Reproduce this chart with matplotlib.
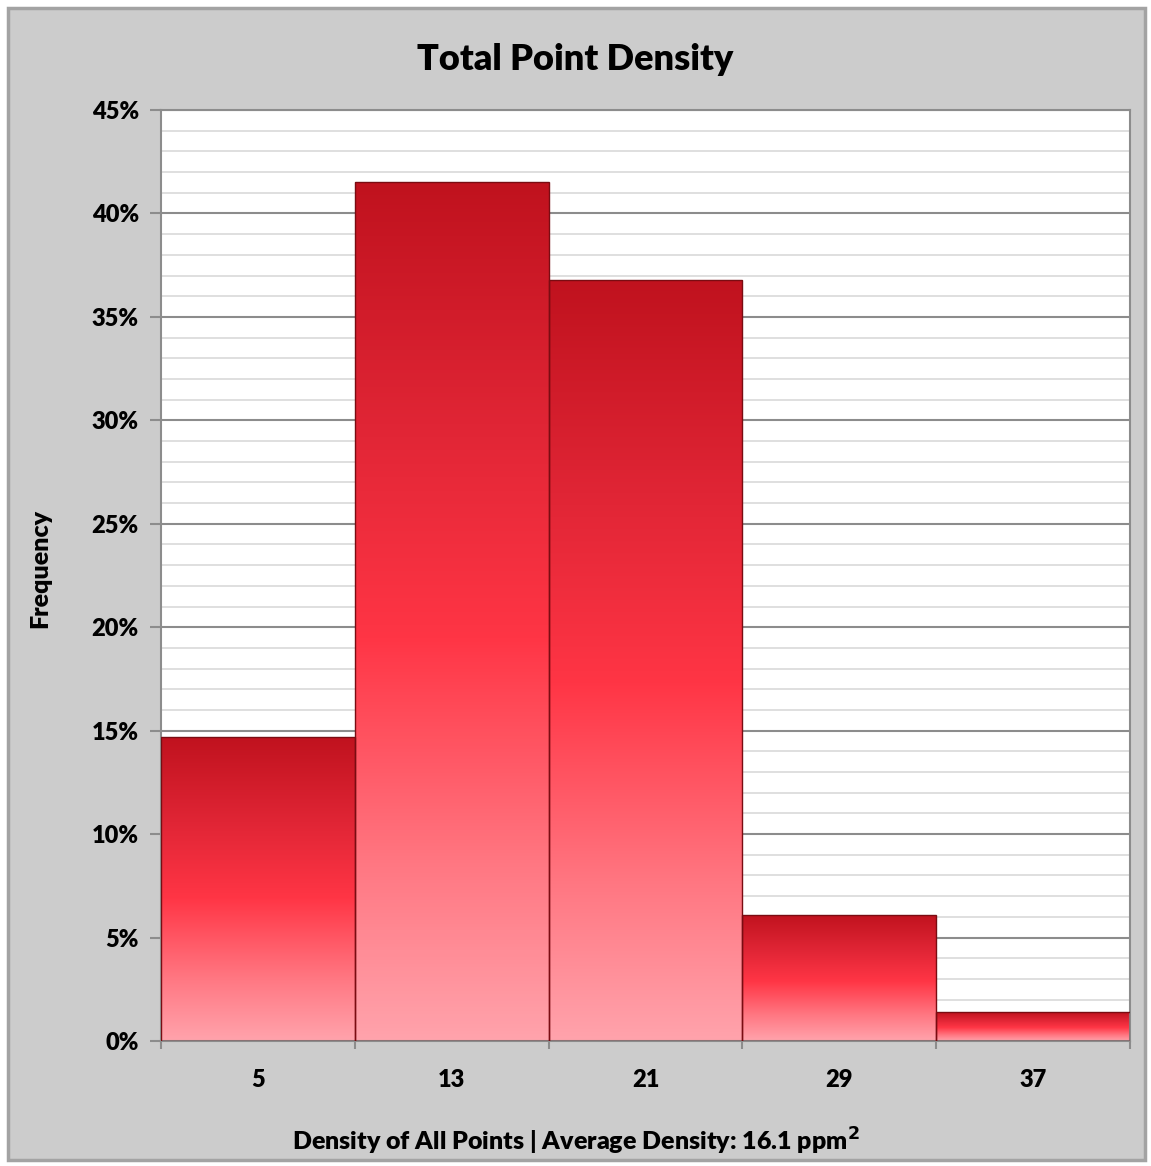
import numpy as np
import matplotlib.pyplot as plt
from matplotlib.patches import Rectangle
from matplotlib.colors import LinearSegmentedColormap
from matplotlib.ticker import MultipleLocator, FixedLocator, PercentFormatter

# histogram bins (density, points per m^2) and share of points in each
bin_centers = [5, 13, 21, 29, 37]
bin_labels = ['5', '13', '21', '29', '37']
frequency = [14.7, 41.5, 36.8, 6.1, 1.4]
bin_width = 8

plt.rcParams['font.family'] = ['Lato', 'DejaVu Sans']
plt.rcParams['font.weight'] = 'heavy'

fig = plt.figure(figsize=(11.51, 11.66), dpi=100, facecolor='white')

# grey chart panel with a thin border
panel = Rectangle((8 / 1151, 6 / 1166), 1137 / 1151, 1152 / 1166,
                  transform=fig.transFigure, facecolor='#cccccc',
                  edgecolor='#a3a3a3', linewidth=2.5, zorder=-1)
fig.patches.append(panel)

ax = fig.add_axes([161 / 1151, 1 - 1041 / 1166, 969 / 1151, 931 / 1166])
ax.set_zorder(2)
ax.set_facecolor('white')

# gridlines: light every 1 %, darker every 5 %
ax.yaxis.set_major_locator(MultipleLocator(5))
ax.yaxis.set_minor_locator(MultipleLocator(1))
ax.yaxis.set_major_formatter(PercentFormatter(decimals=0))
ax.grid(which='minor', axis='y', color='#d9d9d9', linewidth=1.2, zorder=0)
ax.grid(which='major', axis='y', color='#8c8c8c', linewidth=1.5, zorder=0)
ax.set_axisbelow(True)

edges = [c - bin_width / 2 for c in bin_centers] + [bin_centers[-1] + bin_width / 2]
ax.xaxis.set_major_locator(FixedLocator(edges))
ax.xaxis.set_minor_locator(FixedLocator(bin_centers))
ax.xaxis.set_major_formatter(plt.NullFormatter())
ax.xaxis.set_minor_formatter(plt.FixedFormatter(bin_labels))
ax.tick_params(axis='x', which='major', length=6, width=1.5, color='#8c8c8c')
ax.tick_params(axis='x', which='minor', length=0, pad=20, labelsize=17)
ax.tick_params(axis='y', which='major', length=8, width=1.5, color='#8c8c8c',
               labelsize=17, pad=8)
ax.tick_params(axis='y', which='minor', length=0)

for s in ax.spines.values():
    s.set_color('#8c8c8c')
    s.set_linewidth(1.5)

# red vertical gradient for the bars: dark top, bright middle, pink base
grad = LinearSegmentedColormap.from_list(
    'barfill', [(0.0, '#ffa3ac'), (0.2, '#ff7883'), (0.47, '#ff3545'),
                (0.72, '#e02535'), (1.0, '#c0121e')])
ramp = np.linspace(0, 1, 256).reshape(-1, 1)

bars = ax.bar(bin_centers, frequency, width=bin_width, facecolor='none',
              edgecolor='#7a0c12', linewidth=1.0, zorder=3)
for b in bars:
    x0, y0 = b.get_x(), b.get_y()
    w, h = b.get_width(), b.get_height()
    im = ax.imshow(ramp, cmap=grad, origin='lower', aspect='auto',
                   extent=[x0, x0 + w, y0, y0 + h], zorder=2)
    im.set_clip_path(b)

ax.set_xlim(bin_centers[0] - bin_width / 2, bin_centers[-1] + bin_width / 2)
ax.set_ylim(0, 45)

for lbl in ax.get_yticklabels() + ax.get_xticklabels(minor=True):
    lbl.set_fontweight('heavy')

fig.text(0.5, 1 - 60 / 1166, 'Total Point Density', ha='center', va='center',
         fontsize=26, fontweight='heavy')
fig.text(40 / 1151, 1 - 568 / 1166, 'Frequency', rotation=90, ha='center',
         va='center', fontsize=18, fontweight='heavy')
fig.text(0.5, 1 - 1141 / 1166,
         'Density of All Points | Average Density: 16.1 ppm$^{\\mathbf{2}}$',
         ha='center', va='center', fontsize=18, fontweight='heavy')

fig.savefig('out.png', dpi=100, facecolor=fig.get_facecolor())
